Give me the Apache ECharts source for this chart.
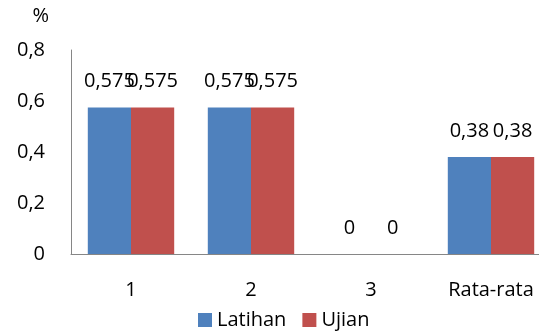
<!DOCTYPE html>
<html>
<head>
<meta charset="utf-8">
<script src="https://cdn.jsdelivr.net/npm/echarts@6/dist/echarts.min.js"></script>
<style>
  html, body { margin: 0; padding: 0; background: #fff; }
  #chart { width: 539px; height: 334px; }
</style>
</head>
<body>
<div id="chart"></div>
<script>
const categories = ['1', '2', '3', 'Rata-rata'];
const latihan = [0.575, 0.575, 0, 0.38];
const ujian = [0.575, 0.575, 0, 0.38];
const yTicks = [0, 0.2, 0.4, 0.6, 0.8];

const font = '"Open Sans", "Noto Sans", sans-serif';
const comma = v => String(v).replace('.', ',');

const chart = echarts.init(document.getElementById('chart'));

const labelStyle = {
  show: true,
  position: 'top',
  distance: 16,
  color: '#000',
  fontSize: 20,
  fontFamily: font,
  formatter: p => comma(p.value)
};

chart.setOption({
  animation: false,
  grid: { left: 71, width: 480, top: 50, bottom: 80, containLabel: false, outerBoundsMode: 'none' },
  legend: {
    bottom: -1,
    left: 193,
    itemWidth: 14,
    itemHeight: 14,
    itemGap: 16,
    icon: 'rect',
    textStyle: { fontSize: 20, fontFamily: font, color: '#000' },
    data: ['Latihan', 'Ujian']
  },
  xAxis: {
    type: 'category',
    data: categories,
    axisLine: { lineStyle: { color: '#868686', width: 1 } },
    axisTick: { show: false },
    axisLabel: { color: '#000', fontSize: 20, fontFamily: font, margin: 26 }
  },
  yAxis: {
    type: 'value',
    min: 0,
    max: 0.8,
    interval: 0.2,
    name: '%',
    nameLocation: 'end',
    nameGap: 24,
    nameTextStyle: { color: '#000', fontSize: 20, fontFamily: font, align: 'right', padding: [0, 22, 0, 0] },
    axisLine: { show: true, lineStyle: { color: '#868686', width: 1 } },
    axisTick: { show: false },
    splitLine: { show: false },
    axisLabel: {
      color: '#000', fontSize: 20, fontFamily: font, margin: 26,
      formatter: v => {
        const t = yTicks.find(x => Math.abs(x - v) < 1e-9);
        return comma(t !== undefined ? t : v);
      }
    }
  },
  series: [
    {
      name: 'Latihan',
      type: 'bar',
      data: latihan,
      barGap: '0%',
      barCategoryGap: '28%',
      itemStyle: { color: '#4F81BD' },
      label: labelStyle
    },
    {
      name: 'Ujian',
      type: 'bar',
      data: ujian,
      itemStyle: { color: '#C0504D' },
      label: labelStyle
    }
  ]
});
</script>
</body>
</html>
